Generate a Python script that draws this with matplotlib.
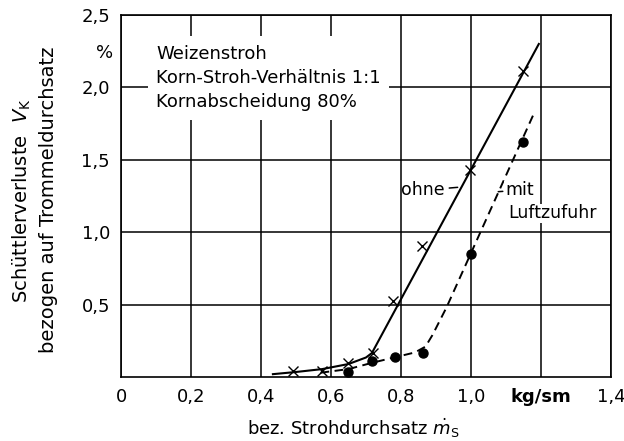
import matplotlib
matplotlib.use("Agg")
import matplotlib.pyplot as plt

plt.rcParams['font.family'] = ['DejaVu Sans']
plt.rcParams['mathtext.fontset'] = 'dejavusans'

# measured points, "ohne" (x markers) and "mit Luftzufuhr" (dots)
ohne_x = [0.49, 0.575, 0.65, 0.72, 0.777, 0.86, 0.997, 1.149]
ohne_y = [0.04, 0.045, 0.095, 0.165, 0.525, 0.905, 1.43, 2.11]
mit_x = [0.65, 0.717, 0.783, 0.863, 1.0, 1.149]
mit_y = [0.035, 0.11, 0.138, 0.166, 0.85, 1.62]

# drawn curves
ohne_line_x = [0.434, 0.5, 0.575, 0.65, 0.70, 0.717, 1.194]
ohne_line_y = [0.02, 0.035, 0.055, 0.09, 0.135, 0.166, 2.30]
mit_line_x = [0.57, 0.65, 0.72, 0.78, 0.84, 0.87, 0.89, 0.93, 1.18]
mit_line_y = [0.03, 0.055, 0.10, 0.135, 0.17, 0.21, 0.29, 0.48, 1.82]

xticks = [0, 0.2, 0.4, 0.6, 0.8, 1.0, 1.2, 1.4]
xtick_labels = ['0', '0,2', '0,4', '0,6', '0,8', '1,0', 'kg/sm', '1,4']
yticks = [0.5, 1.0, 1.5, 2.0, 2.5]
ytick_labels = ['0,5', '1,0', '1,5', '2,0', '2,5']

fig = plt.figure(figsize=(6.24, 4.41), dpi=100)
ax = fig.add_axes([0.194, 0.145, 0.785, 0.821])
ax.set_xlim(0, 1.4)
ax.set_ylim(0, 2.5)

ax.set_xticks(xticks)
ax.set_xticklabels(xtick_labels, fontsize=13)
ax.get_xticklabels()[6].set_fontweight('bold')
ax.set_yticks(yticks)
ax.set_yticklabels(ytick_labels, fontsize=13)
ax.tick_params(length=0, pad=8)
ax.grid(True, color='black', lw=1.1)
ax.set_axisbelow(True)
for s in ax.spines.values():
    s.set_linewidth(1.2)

ax.plot(ohne_line_x, ohne_line_y, color='black', lw=1.5)
ax.plot(mit_line_x, mit_line_y, color='black', lw=1.4, dashes=(4.5, 2.8))
ax.plot(ohne_x, ohne_y, 'x', color='black', ms=6.5, mew=1.0)
ax.plot(mit_x, mit_y, 'o', color='black', ms=6.5)

ax.text(0.1, 2.065, "Weizenstroh\nKorn-Stroh-Verhältnis 1:1\nKornabscheidung 80%",
        fontsize=13, va='center', ha='left', linespacing=1.45,
        bbox=dict(facecolor='white', edgecolor='none', pad=6))

ax.annotate("ohne", xy=(0.962, 1.31), xytext=(0.926, 1.29), fontsize=12.5,
            ha='right', va='center',
            arrowprops=dict(arrowstyle='-', color='black', lw=1.1, shrinkA=1, shrinkB=0))
ax.annotate("mit", xy=(1.078, 1.28), xytext=(1.097, 1.29), fontsize=12.5,
            ha='left', va='center',
            bbox=dict(facecolor='white', edgecolor='none', pad=0.5),
            arrowprops=dict(arrowstyle='-', color='black', lw=1.1, shrinkA=1, shrinkB=0))
ax.text(1.106, 1.13, "Luftzufuhr", fontsize=12.5, ha='left', va='center',
        bbox=dict(facecolor='white', edgecolor='none', pad=0.5))

ax.text(-0.046, 2.24, "%", fontsize=13, ha='center', va='center', clip_on=False)

fig.text(0.055, 0.546, "Schüttlerverluste  $V_\\mathrm{K}$\nbezogen auf Trommeldurchsatz",
         rotation=90, ha='center', va='center', multialignment='center',
         fontsize=14, linespacing=1.35)
fig.text(0.566, 0.029, "bez. Strohdurchsatz $\\dot{m}_\\mathrm{S}$", fontsize=13,
         ha='center', va='center')

fig.savefig("out.png", dpi=100)
